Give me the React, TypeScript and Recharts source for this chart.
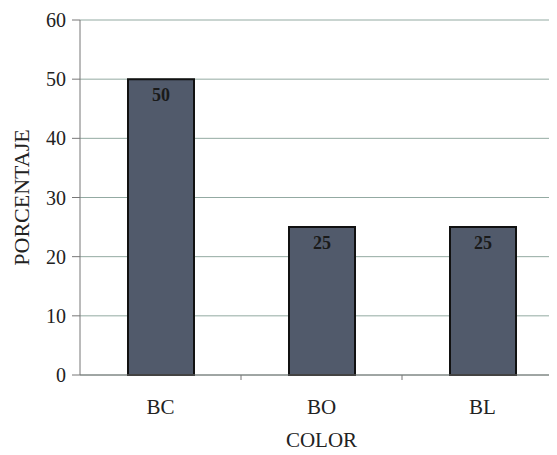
import { BarChart, Bar, XAxis, YAxis, CartesianGrid, LabelList } from 'recharts';

const colores = ['BC', 'BO', 'BL'];
const porcentajes = [50, 25, 25];
const yTicks = [0, 10, 20, 30, 40, 50, 60];

const data = colores.map((c, i) => ({ color: c, pct: porcentajes[i] }));

const W = 555;
const H = 447;
const Y_W = 72;
const FONT = '"Liberation Serif", "Times New Roman", serif';
const band = (W - Y_W) / colores.length;

// category label plus the small boundary tick to its right
function ColorTick(props: any) {
  const { x, y, payload } = props;
  const edge = x + band / 2;
  return (
    <g>
      <line x1={edge} y1={y - 8} x2={edge} y2={y - 3} stroke="#777" />
      <text x={x} y={y + 31} textAnchor="middle" fontFamily={FONT} fontSize={21} fill="#222">
        {payload.value}
      </text>
    </g>
  );
}

export default function App() {
  return (
    <BarChart width={W} height={H} data={data} margin={{ top: 12, right: 0, bottom: 0, left: 0 }} barSize={66}>
      <CartesianGrid vertical={false} stroke="#93aaa2" />
      <XAxis
        dataKey="color"
        height={80}
        tick={<ColorTick />}
        tickLine={false}
        axisLine={{ stroke: '#777' }}
        label={{ value: 'COLOR', position: 'insideBottom', offset: 8, fontFamily: FONT, fontSize: 21, fill: '#222' }}
      />
      <YAxis
        width={Y_W}
        domain={[0, 60]}
        ticks={yTicks}
        tickSize={8}
        tickMargin={6}
        tick={{ fontFamily: FONT, fontSize: 20, fill: '#222' }}
        axisLine={{ stroke: '#777' }}
        tickLine={{ stroke: '#777' }}
        label={{ value: 'PORCENTAJE', angle: -90, position: 'insideLeft', offset: 13, fontFamily: FONT, fontSize: 22, fill: '#222', style: { textAnchor: 'middle' } }}
      />
      <Bar dataKey="pct" fill="#515a6b" stroke="#111" strokeWidth={2} isAnimationActive={false}>
        <LabelList dataKey="pct" position="insideTop" offset={9} fontFamily={FONT} fontSize={18} fontWeight="bold" fill="#1a1a1a" />
      </Bar>
    </BarChart>
  );
}
